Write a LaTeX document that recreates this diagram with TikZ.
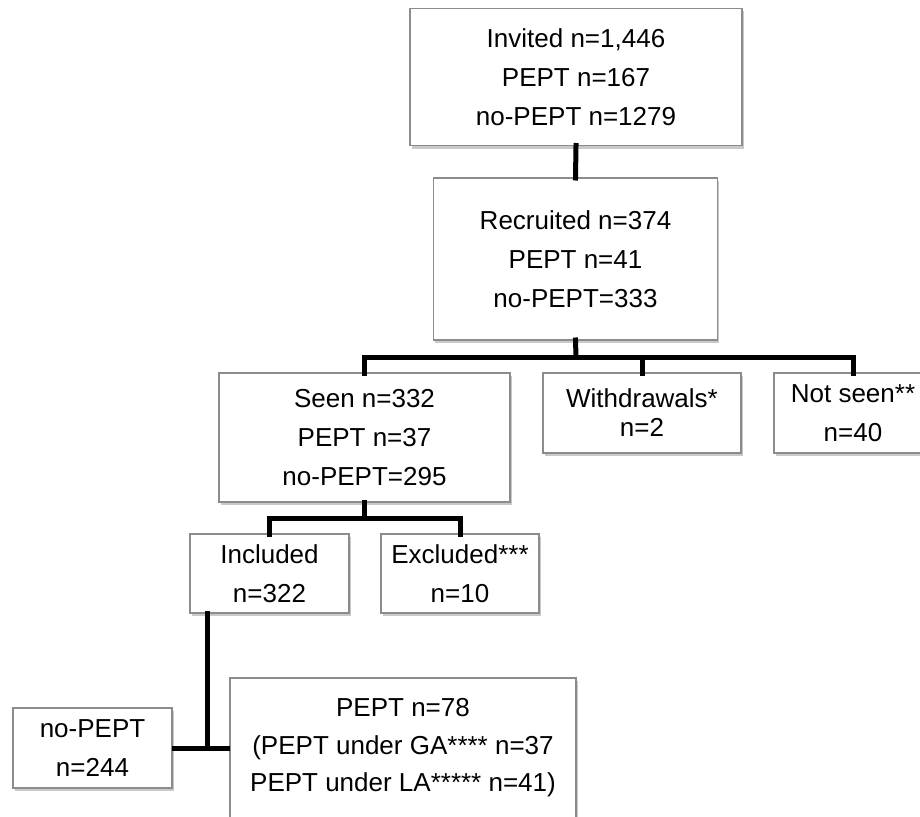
\documentclass[tikz,border=0pt]{standalone}
\usepackage{fontspec}
\setmainfont{Liberation Sans}
\usetikzlibrary{shadows}
\definecolor{boxline}{HTML}{8C8C8C}
\tikzset{
  fbox/.style={draw=boxline, line width=1.2pt, fill=white, align=center,
    inner sep=0pt, outer sep=0pt,
    drop shadow={shadow xshift=1.5pt, shadow yshift=-3pt, opacity=0.35, fill=black!60},
    font=\fontsize{26}{39}\selectfont},
  conn/.style={line width=5pt, black, line cap=rect},
}
\begin{document}
\begin{tikzpicture}[x=1pt, y=-1pt]
\useasboundingbox (0,0) rectangle (920,816);
\clip (0,0) rectangle (920,816);
\fill[white] (0,0) rectangle (920,816);
% boxes
\node[fbox, minimum width=332pt, minimum height=137pt] (inv) at (576,77) {Invited n=1,446\\PEPT n=167\\no-PEPT n=1279};
\node[fbox, minimum width=284pt, minimum height=162pt] (rec) at (575.5,259) {Recruited n=374\\PEPT n=41\\no-PEPT=333};
\node[fbox, minimum width=291pt, minimum height=129pt] (seen) at (364.5,437.5) {Seen n=332\\PEPT n=37\\no-PEPT=295};
\node[fbox, minimum width=198pt, minimum height=80pt, font=\fontsize{26}{29}\selectfont] (wd) at (642,413) {Withdrawals*\\n=2};
\node[fbox, minimum width=158pt, minimum height=80pt] (ns) at (853,413) {Not seen**\\n=40};
\node[fbox, minimum width=159pt, minimum height=79pt] (inc) at (269.5,573.5) {Included\\n=322};
\node[fbox, minimum width=158pt, minimum height=79pt] (exc) at (460,573.5) {Excluded***\\n=10};
\node[fbox, minimum width=159pt, minimum height=80pt] (nop) at (92.5,748) {no-PEPT\\n=244};
\node[fbox, minimum width=346pt, minimum height=140pt, font=\fontsize{26}{37.5}\selectfont] (pept) at (403,748) {PEPT n=78\\(PEPT under GA**** n=37\\PEPT under LA***** n=41)};
% connectors
\draw[conn] (inv.south) -- (rec.north);
\coordinate (b1) at (576,357);
\draw[conn] (rec.south) -- (b1);
\draw[conn] (seen.north) |- (b1) -| (ns.north);
\draw[conn] (wd.north) -- (wd.north |- b1);
\coordinate (b2) at (364.5,518);
\draw[conn] (seen.south) -- (b2);
\draw[conn] (inc.north) |- (b2) -| (exc.north);
\coordinate (b3) at (207,748);
\draw[conn] (inc.south -| b3) -- (b3);
\draw[conn, line cap=butt] (nop.east) -- (pept.west);
\end{tikzpicture}
\end{document}
